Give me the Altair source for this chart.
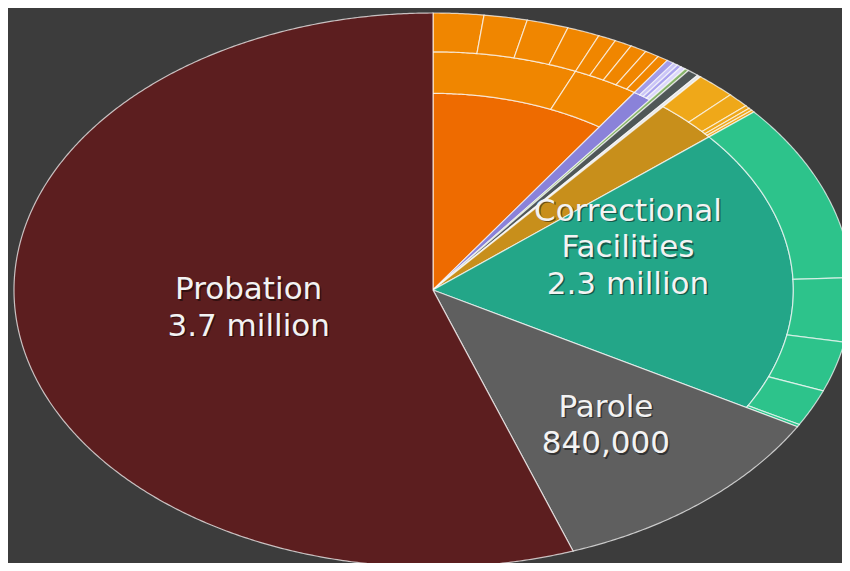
import math
import altair as alt

# ---------------- data (thousands of people) ----------------
groups = ["Local jails", "Youth", "Territorial prisons", "Immigration detention",
          "Other", "Federal prisons", "State prisons", "Parole", "Probation"]
group_values = [646, 57, 11, 30, 10, 196, 1322, 777, 3791]

jail_status = [443, 203]                                   # middle ring of local jails
jail_offense = [133, 114, 110, 86, 47, 46, 44, 38, 28]     # outer ring of local jails
youth_breakdown = [19, 13, 12, 13]                         # outer ring of youth
federal_offense = [105, 59, 13, 10, 9]                     # outer ring of federal prisons
state_offense = [711, 255, 200, 146, 10]                   # outer ring of state prisons

label_texts = ["Probation\n3.7 million", "Correctional\nFacilities\n2.3 million", "Parole\n840,000"]

# ---------------- layout / style ----------------
CX, CY = 425.0, 282.0     # centre of the pie in view pixels
RX, RY = 419.0, 277.0     # the pie is drawn stretched into an ellipse
R_MID, R_OUT = 0.71, 0.86

inner_colors = {
    "Local jails": "#ee6b00", "Youth": "#8a82d9", "Territorial prisons": "#86b36a",
    "Immigration detention": "#4f5757", "Other": "#e6e6e6", "Federal prisons": "#c88f1b",
    "State prisons": "#23a688", "Parole": "#5f5f5f", "Probation": "#5c1e1f",
}
ring_color = {"Local jails": "#f08600", "Youth": "#b3acf0", "Federal prisons": "#efa819",
              "State prisons": "#2dc38b"}
youth_colors = ["#a39ce8", "#cbc6f7", "#aaa3ee", "#dcd8fb"]

TOTAL = float(sum(group_values))


def to_rad(v):
    return v / TOTAL * 2 * math.pi


def sector(a0, a1, r0, r1):
    n = max(3, int(math.degrees(a1 - a0) / 0.4) + 3)
    angs = [a0 + (a1 - a0) * i / (n - 1) for i in range(n)]
    pts = [[CX + RX * r1 * math.sin(a), CY - RY * r1 * math.cos(a)] for a in angs]
    if r0 == 0:
        pts.append([CX, CY])
    else:
        pts += [[CX + RX * r0 * math.sin(a), CY - RY * r0 * math.cos(a)] for a in reversed(angs)]
    pts.append(pts[0])
    return pts


features = []


def add(name, a0, a1, r0, r1, color, value):
    features.append({
        "type": "Feature",
        "geometry": {"type": "Polygon", "coordinates": [sector(a0, a1, r0, r1)]},
        "properties": {"name": name, "color": color, "value": value},
    })


def add_ring(name, start, values, r0, r1, colors):
    a = start
    for i, v in enumerate(values):
        add(name, a, a + to_rad(v), r0, r1, colors[i % len(colors)], v)
        a += to_rad(v)


start = 0.0
for g, v in zip(groups, group_values):
    end = start + to_rad(v)
    if g == "Local jails":
        add(g, start, end, 0, R_MID, inner_colors[g], v)
        add_ring(g, start, jail_status, R_MID, R_OUT, [ring_color[g]])
        add_ring(g, start, jail_offense, R_OUT, 1.0, [ring_color[g]])
    elif g == "Youth":
        add(g, start, end, 0, R_OUT, inner_colors[g], v)
        add_ring(g, start, youth_breakdown, R_OUT, 1.0, youth_colors)
    elif g == "Federal prisons":
        add(g, start, end, 0, R_OUT, inner_colors[g], v)
        add_ring(g, start, federal_offense, R_OUT, 1.0, [ring_color[g]])
    elif g == "State prisons":
        add(g, start, end, 0, R_OUT, inner_colors[g], v)
        add_ring(g, start, state_offense, R_OUT, 1.0, [ring_color[g]])
    else:
        add(g, start, end, 0, 1.0, inner_colors[g], v)
    start = end

# label anchors of the first line (angle clockwise from top in degrees, radius fraction)
label_anchor = [(270.0, 0.440), (58.8, 0.544), (135.9, 0.593)]
label_rows = []
for t, (deg, r) in zip(label_texts, label_anchor):
    a = math.radians(deg)
    label_rows.append({"text": t, "lon": CX + RX * r * math.sin(a), "lat": CY - RY * r * math.cos(a)})

proj = alt.Projection(type="identity", scale=1, translate=[0, 0])

shapes = alt.Chart(
    alt.InlineData(values={"type": "FeatureCollection", "features": features},
                   format=alt.DataFormat(property="features"))
).mark_geoshape(stroke="#ffffff", strokeWidth=1.2, strokeOpacity=0.7).encode(
    color=alt.Color("properties.color:N", scale=None),
    tooltip=[alt.Tooltip("properties.name:N", title="Group"),
             alt.Tooltip("properties.value:Q", title="Thousands")],
)

text_props = dict(font="DejaVu Sans", fontSize=31, lineBreak="\n", lineHeight=36.5,
                  align="center", baseline="middle")

shadow = alt.Chart(alt.Data(values=label_rows)).mark_text(
    color="#000000", opacity=0.45, dx=1.5, dy=1.5, **text_props
).encode(longitude="lon:Q", latitude="lat:Q", text="text:N")

labels = alt.Chart(alt.Data(values=label_rows)).mark_text(
    color="#f3f3f3", **text_props
).encode(longitude="lon:Q", latitude="lat:Q", text="text:N")

chart = alt.layer(shapes, shadow, labels).properties(
    width=834, height=555, projection=proj, background="#3c3c3c", padding=0,
    autosize=alt.AutoSizeParams(type="none"),
).configure_view(stroke=None)

chart.save("out.html", embed_options={"renderer": "svg", "actions": False})
